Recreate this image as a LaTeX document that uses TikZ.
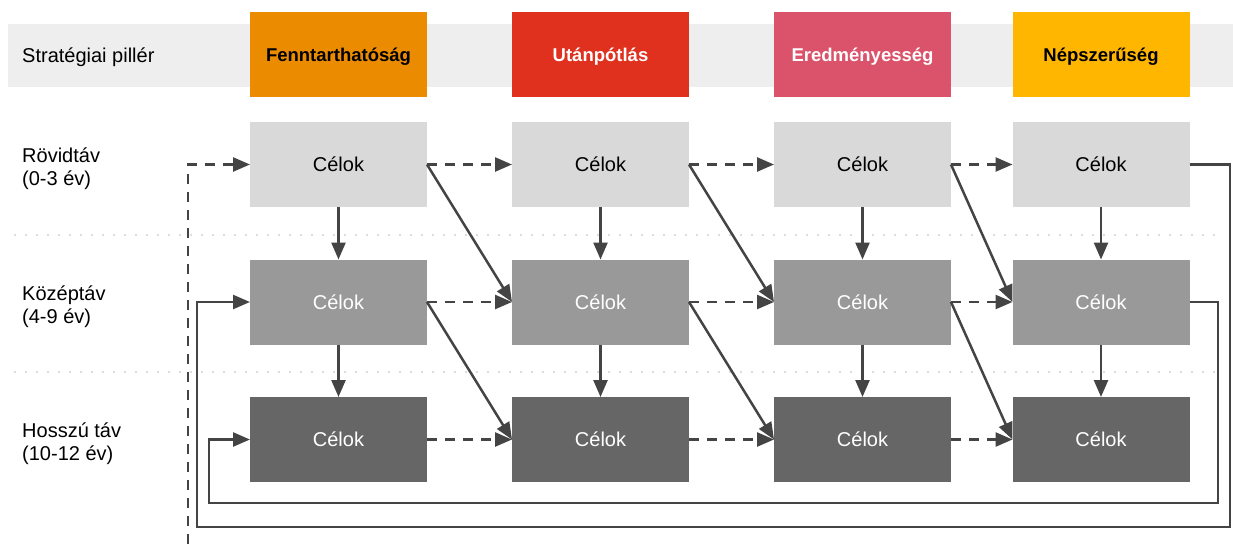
\documentclass[tikz,border=0pt]{standalone}
\usepackage{fontspec}
\setmainfont{Liberation Sans}
\usetikzlibrary{arrows.meta}
\definecolor{band}{HTML}{EEEEEE}
\definecolor{cOrange}{HTML}{EB8C00}
\definecolor{cRed}{HTML}{E0301E}
\definecolor{cRose}{HTML}{DB536A}
\definecolor{cYellow}{HTML}{FFB600}
\definecolor{gLight}{HTML}{D9D9D9}
\definecolor{gMid}{HTML}{999999}
\definecolor{gDark}{HTML}{666666}
\definecolor{lineC}{HTML}{444444}
\definecolor{dotC}{HTML}{D0D0D0}
\tikzset{
  cell/.style={minimum width=177pt, minimum height=85pt, inner sep=0pt, outer sep=0pt,
    font=\fontsize{20}{23}\selectfont},
  headbox/.style={cell, text depth=0pt, font=\fontsize{18.5}{22}\selectfont\bfseries},
  lbl/.style={anchor=west, align=left, inner sep=0pt, font=\fontsize{20}{23}\selectfont},
  conn/.style={draw=lineC, line width=2.5pt, -{Triangle[length=17pt,width=14pt]}},
  dconn/.style={conn, dash pattern=on 10pt off 8pt},
  sep/.style={draw=dotC, line width=2.2pt, line cap=round, dash pattern=on 0pt off 11pt},
}
\begin{document}
\begin{tikzpicture}[x=1pt,y=-1pt]
\useasboundingbox (0,0) rectangle (1233,544);
% header band
\fill[band] (8,24) rectangle (1233,87);
\node[lbl] (lstrat) at (22,57.5) {Stratégiai pillér};
% separators
\draw[sep] (15,235) -- (1225,235);
\draw[sep] (15,372) -- (1225,372);
% headers
\node[headbox, fill=cOrange, text=black] (h1) at (338.5,54.5) {Fenntarthatóság};
\node[headbox, fill=cRed, text=white] (h2) at (600.5,54.5) {Utánpótlás};
\node[headbox, fill=cRose, text=white] (h3) at (862.5,54.5) {Eredményesség};
\node[headbox, fill=cYellow, text=black] (h4) at (1101,54.5) {Népszerűség};
% row labels
\node[lbl] (l1) at (22,169) {Rövidtáv\\(0-3 év)};
\node[lbl] (l2) at (22,307) {Középtáv\\(4-9 év)};
\node[lbl] (l3) at (22,444) {Hosszú táv\\(10-12 év)};
% cells
\foreach \c/\x in {1/338.5,2/600.5,3/862.5,4/1101}{
  \node[cell, fill=gLight, text=black] (r1c\c) at (\x,164.5) {Célok};
  \node[cell, fill=gMid, text=white] (r2c\c) at (\x,302) {Célok};
  \node[cell, fill=gDark, text=white] (r3c\c) at (\x,439.5) {Célok};
}
% horizontal dashed
\foreach \r in {1,2,3}{
  \draw[dconn] (r\r c1.east) -- (r\r c2.west);
  \draw[dconn] (r\r c2.east) -- (r\r c3.west);
  \draw[dconn] (r\r c3.east) -- (r\r c4.west);
}
% vertical
\foreach \c in {1,2,3,4}{
  \draw[conn] (r1c\c.south) -- (r2c\c.north);
  \draw[conn] (r2c\c.south) -- (r3c\c.north);
}
% diagonals
\foreach \a/\b in {1/2,2/3,3/4}{
  \draw[conn] (r1c\a.east) -- (r2c\b.west);
  \draw[conn] (r2c\a.east) -- (r3c\b.west);
}
% loops
\coordinate (dstart) at (188,544);
\draw[dconn] (dstart) |- (r1c1.west);
\coordinate (o1) at (1230,527);
\coordinate (o2) at (197,527);
\draw[conn] (r1c4.east) -| (o1) -- (o2) |- (r2c1.west);
\coordinate (i1) at (1218,503);
\coordinate (i2) at (209,503);
\draw[conn] (r2c4.east) -| (i1) -- (i2) |- (r3c1.west);
\end{tikzpicture}
\end{document}
